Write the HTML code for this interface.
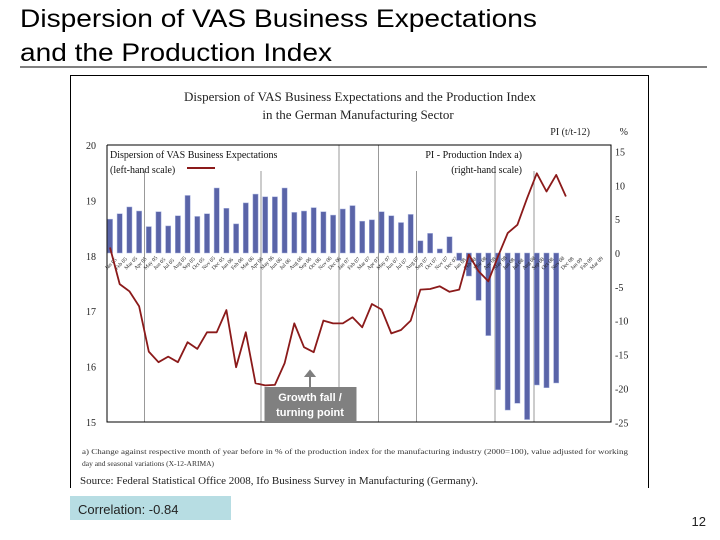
<!DOCTYPE html>
<html><head><meta charset="utf-8"><style>
html,body{margin:0;padding:0;background:#fff;}
svg{display:block;}
</style></head><body>
<svg id="chart" width="720" height="540" viewBox="0 0 720 540" xmlns="http://www.w3.org/2000/svg">
  <text x="20" y="27" font-family="Liberation Sans, sans-serif" font-size="25" fill="#000" textLength="517" lengthAdjust="spacingAndGlyphs">Dispersion of VAS Business Expectations</text>
  <text x="20" y="61" font-family="Liberation Sans, sans-serif" font-size="25" fill="#000" textLength="312" lengthAdjust="spacingAndGlyphs">and the Production Index</text>
  <line x1="20" y1="67" x2="707" y2="67" stroke="#000" stroke-width="1"/>
  <rect x="70.5" y="75.5" width="578" height="420" fill="#fff" stroke="#000" stroke-width="1"/>
  <rect x="60" y="488" width="600" height="10" fill="#fff"/>
  <text x="360" y="101" text-anchor="middle" font-family="Liberation Serif, serif" font-size="13" fill="#222">Dispersion of VAS Business Expectations and the Production Index</text>
  <text x="358" y="119" text-anchor="middle" font-family="Liberation Serif, serif" font-size="13" fill="#222">in the German Manufacturing Sector</text>
  <text x="590" y="135" text-anchor="end" font-family="Liberation Serif, serif" font-size="10" fill="#222">PI (t/t-12)</text>
  <text x="628" y="135" text-anchor="end" font-family="Liberation Serif, serif" font-size="10" fill="#222">%</text>
  <g id="plot"></g>
  <text x="82" y="454" font-family="Liberation Serif, serif" font-size="7.5" fill="#333" textLength="546" lengthAdjust="spacingAndGlyphs">a) Change against respective month of year before in % of the production index for the manufacturing industry (2000=100), value adjusted for working</text>
  <text x="82" y="466" font-family="Liberation Serif, serif" font-size="7.5" fill="#333">day and seasonal variations (X-12-ARIMA)</text>
  <text x="80" y="484" font-family="Liberation Serif, serif" font-size="10" fill="#222" textLength="398" lengthAdjust="spacingAndGlyphs">Source: Federal Statistical Office 2008, Ifo Business Survey in Manufacturing (Germany).</text>
  <rect x="70" y="496" width="161" height="24" fill="#b7dde3"/>
  <text x="78" y="514" font-family="Liberation Sans, sans-serif" font-size="13" fill="#222">Correlation: -0.84</text>
  <text x="706" y="526" text-anchor="end" font-family="Liberation Sans, sans-serif" font-size="13" fill="#222">12</text>
</svg>
<script>
const barValues=[5.0,5.8,6.8,6.2,3.9,6.1,4.0,5.5,8.5,5.4,5.8,9.6,6.6,4.3,7.4,8.7,8.3,8.3,9.6,6.0,6.2,6.7,6.1,5.6,6.5,7.0,4.7,4.9,6.1,5.5,4.5,5.7,1.8,2.9,0.6,2.4,-1.1,-3.4,-7.0,-12.2,-20.2,-23.2,-22.2,-24.6,-19.5,-19.9,-19.2];
const lineValues=[18.15,17.49,17.36,17.09,16.27,16.08,16.18,16.08,16.44,16.32,16.62,16.62,17.02,15.99,16.62,15.70,15.66,15.67,16.06,16.78,16.35,16.26,16.83,16.78,16.78,16.89,16.71,17.13,17.03,16.60,16.66,16.83,17.39,17.40,17.45,17.35,17.39,18.02,17.72,17.54,17.99,18.41,18.56,19.04,19.49,19.16,19.46,19.07];
const leftTicks=[15,16,17,18,19,20];
const rightTicks=[-25,-20,-15,-10,-5,0,5,10,15];
const monthLabels=["Jan 05","Feb 05","Mar 05","Apr 05","May 05","Jun 05","Jul 05","Aug 05","Sep 05","Oct 05","Nov 05","Dec 05","Jan 06","Feb 06","Mar 06","Apr 06","May 06","Jun 06","Jul 06","Aug 06","Sep 06","Oct 06","Nov 06","Dec 06","Jan 07","Feb 07","Mar 07","Apr 07","May 07","Jun 07","Jul 07","Aug 07","Sep 07","Oct 07","Nov 07","Dec 07","Jan 08","Feb 08","Mar 08","Apr 08","May 08","Jun 08","Jul 08","Aug 08","Sep 08","Oct 08","Nov 08","Dec 08","Jan 09","Feb 09","Mar 09"];
const NS="http://www.w3.org/2000/svg";
const g=document.getElementById('plot');
const L=107,R=611,T=145,B=422;
const x0=110,step=9.70;
function xAt(i){return x0+i*step;}
function yLeft(v){return B-(v-15)/(20-15)*(B-T);}
function yRight(v){return 253-v*6.77;}
function mk(tag,attrs){const e=document.createElementNS(NS,tag);for(const k in attrs)e.setAttribute(k,attrs[k]);g.appendChild(e);return e;}
// grid lines
[[144.5,0],[261,0],[339,1],[378.5,1],[416.5,0],[495,0],[534,0]].forEach(function(d){
  const e=mk('line',{x1:d[0],x2:d[0],y1:d[1]?T:171,y2:B,stroke:'#999','stroke-width':1});
  
  
});
// bars
barValues.forEach(function(v,i){
  const y0=yRight(0),y1=yRight(v);
  const e=mk('rect',{x:xAt(i)-2.6,y:Math.min(y0,y1),width:5.2,height:Math.abs(y1-y0),fill:'#5a64a8',stroke:'#a9b4e0','stroke-width':0.5});
  
  
});
// month labels
monthLabels.forEach(function(t,i){
  const x=xAt(i)-3,y=270;
  const e=mk('text',{x:x,y:y,'font-family':'Liberation Serif, serif','font-size':5.5,fill:'#222',transform:'rotate(-45 '+x+' '+y+')'});
  e.textContent=t;
  
  
});
// line
let d='';
lineValues.forEach(function(v,i){d+=(i?'L':'M')+xAt(i).toFixed(1)+' '+yLeft(v).toFixed(1);});
const ln=mk('path',{d:d,fill:'none',stroke:'#8b1a1a','stroke-width':1.8,'stroke-linejoin':'round'});


// axes box
const box=mk('polyline',{points:L+','+T+' '+R+','+T+' '+R+','+B+' '+L+','+B+' '+L+','+T,fill:'none',stroke:'#000','stroke-width':1});


leftTicks.forEach(function(v){
  const e=mk('text',{x:96,y:yLeft(v)+4,'text-anchor':'end','font-family':'Liberation Serif, serif','font-size':10,fill:'#222'});
  e.textContent=v;
  
  
});
rightTicks.forEach(function(v){
  const e=mk('text',{x:615,y:yRight(v)+4,'font-family':'Liberation Serif, serif','font-size':10,fill:'#222'});
  e.textContent=v;
  
  
});
// legends
function txt(x,y,s,anchor,name){const e=mk('text',{x:x,y:y,'text-anchor':anchor,'font-family':'Liberation Serif, serif','font-size':10,fill:'#111'});e.textContent=s;}
txt(110,158,'Dispersion of VAS Business Expectations','start','legend-dispersion-1');
txt(110,173,'(left-hand scale)','start','legend-dispersion-2');
const lg=mk('line',{x1:187,x2:215,y1:168,y2:168,stroke:'#8b1a1a','stroke-width':2});


txt(522,158,'PI - Production Index a)','end','legend-pi-1');
txt(522,173,'(right-hand scale)','end','legend-pi-2');
// annotation
const ar=mk('path',{d:'M310 387 L310 376 L306 376 L310 371 L314 376 L310 376',fill:'#7f7f7f',stroke:'#7f7f7f','stroke-width':2});


const ab=mk('rect',{x:264.5,y:387,width:92,height:36,fill:'#808080'});


['Growth fall /','turning point'].forEach(function(s,k){
  const e=mk('text',{x:310,y:401+k*15,'text-anchor':'middle','font-family':'Liberation Sans, sans-serif','font-size':11,'font-weight':'bold',fill:'#fff'});
  e.textContent=s;
  
  
});
</script>
</body></html>
